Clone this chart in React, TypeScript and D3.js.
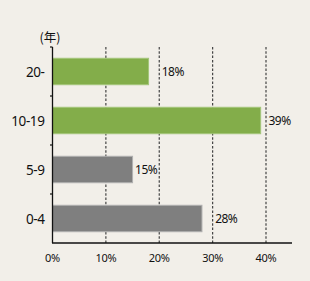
import React from 'react';
import * as d3 from 'd3';

const categories = ['20-', '10-19', '5-9', '0-4'];
const values = [18, 39, 15, 28];
const barColors = ['#83ad4a', '#83ad4a', '#7f7f7f', '#7f7f7f'];
const xTicks = [0, 10, 20, 30, 40];
const unitLabel = '(年)';

const W = 310;
const H = 281;
const font = '"Noto Sans", "Open Sans", sans-serif';

export default function App() {
  const x = d3.scaleLinear().domain([0, 40]).range([52.5, 266]);
  const y = d3.scaleBand<string>().domain(categories).range([47, 243]).paddingInner(0.46).paddingOuter(0.23);
  const axisY = 243;

  // label goes just past the next gridline when the bar ends close to it
  const labelX = (v: number) => {
    const end = x(v);
    const next = xTicks.find((t) => x(t) > end);
    if (next !== undefined && x(next) - end < 16) return x(next) + 2.5;
    return end + 2.5;
  };

  const boundaries = d3.range(categories.length).map((i) => 47 + i * (196 / categories.length));

  return (
    <svg width={W} height={H} style={{ position: 'absolute', left: 0, top: 0, background: '#f2efe9' }}>
      <rect width={W} height={H} fill="#f2efe9" />
      {xTicks.slice(1).map((t) => (
        <line key={t} x1={x(t)} x2={x(t)} y1={47} y2={axisY} stroke="#444" strokeWidth={1.2} strokeDasharray="2.5,1.8" />
      ))}
      {categories.map((c, i) => (
        <g key={c}>
          <rect
            x={x(0)}
            y={y(c)}
            width={x(values[i]) - x(0)}
            height={y.bandwidth()}
            fill={barColors[i]}
            stroke={i < 2 ? '#a3c57a' : '#b0b0b0'}
            strokeWidth={1}
          />
          <text x={44.5} y={(y(c) as number) + y.bandwidth() / 2} textAnchor="end" dominantBaseline="central" fontFamily={font} fontSize={13.5} letterSpacing={-0.4} fill="#111">
            {c}
          </text>
          <text x={labelX(values[i])} y={(y(c) as number) + y.bandwidth() / 2} dominantBaseline="central" fontFamily={font} fontSize={12} letterSpacing={-0.5} fill="#111">
            {values[i]}%
          </text>
        </g>
      ))}
      {boundaries.map((b) => (
        <line key={b} x1={50} x2={52.5} y1={b} y2={b} stroke="#111" strokeWidth={1.2} />
      ))}
      <line x1={52.5} x2={52.5} y1={47} y2={axisY} stroke="#111" strokeWidth={1.3} />
      <line x1={52} x2={292} y1={axisY} y2={axisY} stroke="#111" strokeWidth={1.3} />
      {xTicks.map((t) => (
        <text key={t} x={x(t)} y={257} textAnchor="middle" dominantBaseline="central" fontFamily={font} fontSize={11} letterSpacing={-0.3} fill="#111">
          {t}%
        </text>
      ))}
      <text x={50} y={36} textAnchor="middle" dominantBaseline="central" fontFamily='"Noto Sans CJK JP", sans-serif' fontSize={12.5} fill="#111">
        {unitLabel}
      </text>
    </svg>
  );
}
